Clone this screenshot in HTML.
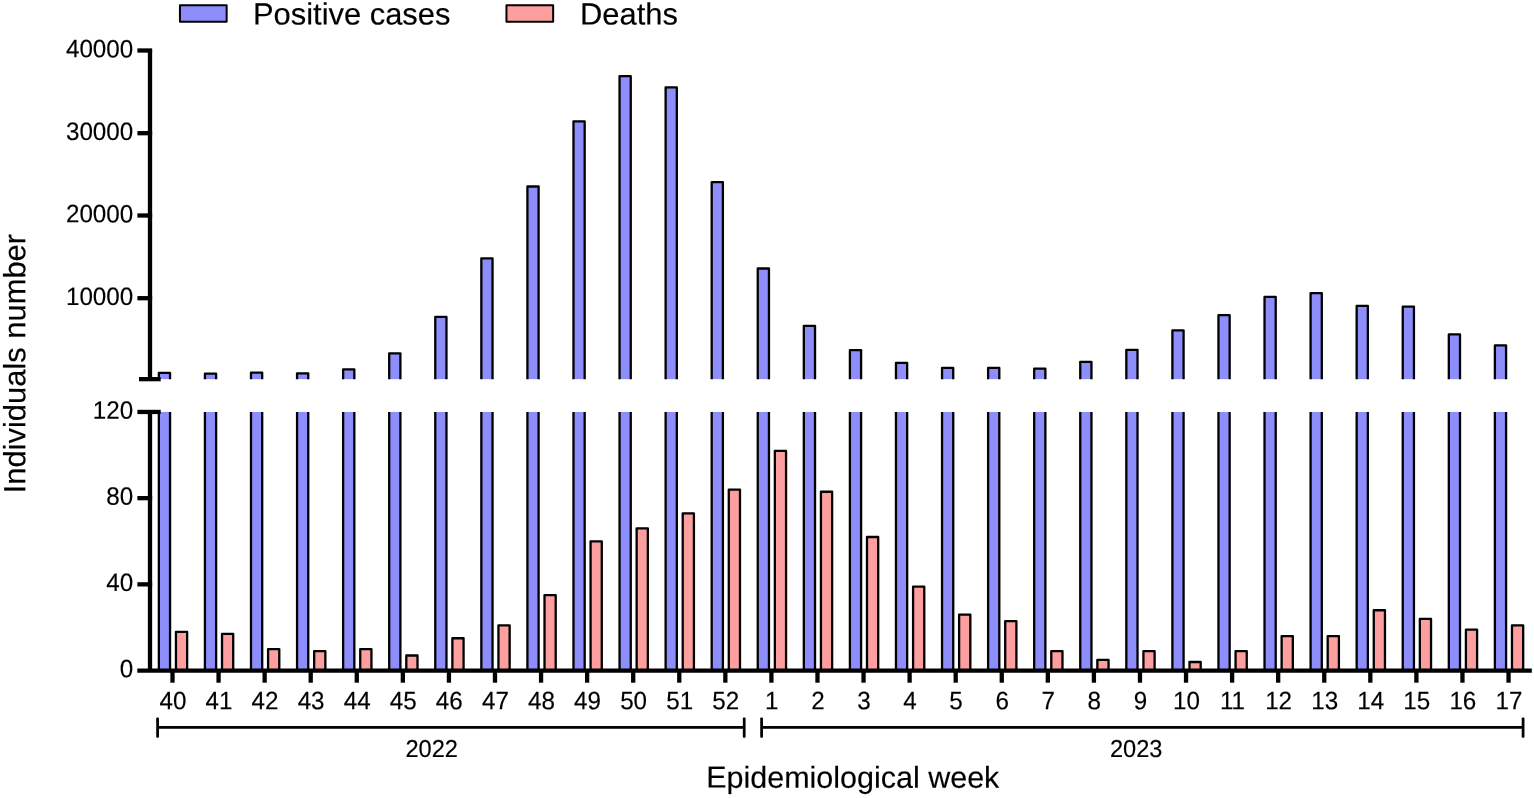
<!DOCTYPE html>
<html lang="en">
<head>
<meta charset="utf-8">
<title>Positive cases and deaths by epidemiological week</title>
<style>
html,body{margin:0;padding:0;background:#fff;}
body{width:1534px;height:798px;overflow:hidden;font-family:"Liberation Sans",sans-serif;}
svg{display:block;}
</style>
</head>
<body>
<svg width="1534" height="798" viewBox="0 0 1534 798" role="img" aria-label="Positive cases and deaths by epidemiological week" font-family="'Liberation Sans', sans-serif" fill="#000">
<rect width="1534" height="798" fill="#fff"/>
<g stroke="#000" stroke-width="2.3" stroke-linejoin="round">
<rect x="158.85" y="372.90" width="11.20" height="6.25" fill="#8d8dfc" stroke="none"/>
<path d="M158.85 379.15V372.90H170.05V379.15" fill="none"/>
<rect x="158.85" y="411.95" width="11.20" height="258.60" fill="#8d8dfc" stroke="none"/>
<path d="M158.85 411.95V670.55M170.05 411.95V670.55" fill="none"/>
<rect x="175.95" y="631.81" width="11.20" height="38.74" fill="#fd9f9f"/>
<rect x="204.92" y="373.70" width="11.20" height="5.45" fill="#8d8dfc" stroke="none"/>
<path d="M204.92 379.15V373.70H216.12V379.15" fill="none"/>
<rect x="204.92" y="411.95" width="11.20" height="258.60" fill="#8d8dfc" stroke="none"/>
<path d="M204.92 411.95V670.55M216.12 411.95V670.55" fill="none"/>
<rect x="222.02" y="633.96" width="11.20" height="36.59" fill="#fd9f9f"/>
<rect x="250.99" y="372.70" width="11.20" height="6.45" fill="#8d8dfc" stroke="none"/>
<path d="M250.99 379.15V372.70H262.19V379.15" fill="none"/>
<rect x="250.99" y="411.95" width="11.20" height="258.60" fill="#8d8dfc" stroke="none"/>
<path d="M250.99 411.95V670.55M262.19 411.95V670.55" fill="none"/>
<rect x="268.09" y="649.05" width="11.20" height="21.50" fill="#fd9f9f"/>
<rect x="297.06" y="373.30" width="11.20" height="5.85" fill="#8d8dfc" stroke="none"/>
<path d="M297.06 379.15V373.30H308.26V379.15" fill="none"/>
<rect x="297.06" y="411.95" width="11.20" height="258.60" fill="#8d8dfc" stroke="none"/>
<path d="M297.06 411.95V670.55M308.26 411.95V670.55" fill="none"/>
<rect x="314.16" y="651.20" width="11.20" height="19.35" fill="#fd9f9f"/>
<rect x="343.13" y="369.40" width="11.20" height="9.75" fill="#8d8dfc" stroke="none"/>
<path d="M343.13 379.15V369.40H354.33V379.15" fill="none"/>
<rect x="343.13" y="411.95" width="11.20" height="258.60" fill="#8d8dfc" stroke="none"/>
<path d="M343.13 411.95V670.55M354.33 411.95V670.55" fill="none"/>
<rect x="360.23" y="649.05" width="11.20" height="21.50" fill="#fd9f9f"/>
<rect x="389.20" y="353.30" width="11.20" height="25.85" fill="#8d8dfc" stroke="none"/>
<path d="M389.20 379.15V353.30H400.40V379.15" fill="none"/>
<rect x="389.20" y="411.95" width="11.20" height="258.60" fill="#8d8dfc" stroke="none"/>
<path d="M389.20 411.95V670.55M400.40 411.95V670.55" fill="none"/>
<rect x="406.30" y="655.51" width="11.20" height="15.04" fill="#fd9f9f"/>
<rect x="435.27" y="316.90" width="11.20" height="62.25" fill="#8d8dfc" stroke="none"/>
<path d="M435.27 379.15V316.90H446.47V379.15" fill="none"/>
<rect x="435.27" y="411.95" width="11.20" height="258.60" fill="#8d8dfc" stroke="none"/>
<path d="M435.27 411.95V670.55M446.47 411.95V670.55" fill="none"/>
<rect x="452.37" y="638.27" width="11.20" height="32.28" fill="#fd9f9f"/>
<rect x="481.34" y="258.40" width="11.20" height="120.75" fill="#8d8dfc" stroke="none"/>
<path d="M481.34 379.15V258.40H492.54V379.15" fill="none"/>
<rect x="481.34" y="411.95" width="11.20" height="258.60" fill="#8d8dfc" stroke="none"/>
<path d="M481.34 411.95V670.55M492.54 411.95V670.55" fill="none"/>
<rect x="498.44" y="625.34" width="11.20" height="45.21" fill="#fd9f9f"/>
<rect x="527.41" y="186.50" width="11.20" height="192.65" fill="#8d8dfc" stroke="none"/>
<path d="M527.41 379.15V186.50H538.61V379.15" fill="none"/>
<rect x="527.41" y="411.95" width="11.20" height="258.60" fill="#8d8dfc" stroke="none"/>
<path d="M527.41 411.95V670.55M538.61 411.95V670.55" fill="none"/>
<rect x="544.51" y="595.17" width="11.20" height="75.38" fill="#fd9f9f"/>
<rect x="573.48" y="121.40" width="11.20" height="257.75" fill="#8d8dfc" stroke="none"/>
<path d="M573.48 379.15V121.40H584.68V379.15" fill="none"/>
<rect x="573.48" y="411.95" width="11.20" height="258.60" fill="#8d8dfc" stroke="none"/>
<path d="M573.48 411.95V670.55M584.68 411.95V670.55" fill="none"/>
<rect x="590.58" y="541.30" width="11.20" height="129.25" fill="#fd9f9f"/>
<rect x="619.55" y="76.20" width="11.20" height="302.95" fill="#8d8dfc" stroke="none"/>
<path d="M619.55 379.15V76.20H630.75V379.15" fill="none"/>
<rect x="619.55" y="411.95" width="11.20" height="258.60" fill="#8d8dfc" stroke="none"/>
<path d="M619.55 411.95V670.55M630.75 411.95V670.55" fill="none"/>
<rect x="636.65" y="528.37" width="11.20" height="142.18" fill="#fd9f9f"/>
<rect x="665.62" y="87.40" width="11.20" height="291.75" fill="#8d8dfc" stroke="none"/>
<path d="M665.62 379.15V87.40H676.82V379.15" fill="none"/>
<rect x="665.62" y="411.95" width="11.20" height="258.60" fill="#8d8dfc" stroke="none"/>
<path d="M665.62 411.95V670.55M676.82 411.95V670.55" fill="none"/>
<rect x="682.72" y="513.28" width="11.20" height="157.27" fill="#fd9f9f"/>
<rect x="711.69" y="182.20" width="11.20" height="196.95" fill="#8d8dfc" stroke="none"/>
<path d="M711.69 379.15V182.20H722.89V379.15" fill="none"/>
<rect x="711.69" y="411.95" width="11.20" height="258.60" fill="#8d8dfc" stroke="none"/>
<path d="M711.69 411.95V670.55M722.89 411.95V670.55" fill="none"/>
<rect x="728.79" y="489.58" width="11.20" height="180.97" fill="#fd9f9f"/>
<rect x="757.76" y="268.50" width="11.20" height="110.65" fill="#8d8dfc" stroke="none"/>
<path d="M757.76 379.15V268.50H768.96V379.15" fill="none"/>
<rect x="757.76" y="411.95" width="11.20" height="258.60" fill="#8d8dfc" stroke="none"/>
<path d="M757.76 411.95V670.55M768.96 411.95V670.55" fill="none"/>
<rect x="774.86" y="450.79" width="11.20" height="219.76" fill="#fd9f9f"/>
<rect x="803.83" y="325.80" width="11.20" height="53.35" fill="#8d8dfc" stroke="none"/>
<path d="M803.83 379.15V325.80H815.03V379.15" fill="none"/>
<rect x="803.83" y="411.95" width="11.20" height="258.60" fill="#8d8dfc" stroke="none"/>
<path d="M803.83 411.95V670.55M815.03 411.95V670.55" fill="none"/>
<rect x="820.93" y="491.73" width="11.20" height="178.81" fill="#fd9f9f"/>
<rect x="849.90" y="350.10" width="11.20" height="29.05" fill="#8d8dfc" stroke="none"/>
<path d="M849.90 379.15V350.10H861.10V379.15" fill="none"/>
<rect x="849.90" y="411.95" width="11.20" height="258.60" fill="#8d8dfc" stroke="none"/>
<path d="M849.90 411.95V670.55M861.10 411.95V670.55" fill="none"/>
<rect x="867.00" y="536.99" width="11.20" height="133.56" fill="#fd9f9f"/>
<rect x="895.97" y="362.80" width="11.20" height="16.35" fill="#8d8dfc" stroke="none"/>
<path d="M895.97 379.15V362.80H907.17V379.15" fill="none"/>
<rect x="895.97" y="411.95" width="11.20" height="258.60" fill="#8d8dfc" stroke="none"/>
<path d="M895.97 411.95V670.55M907.17 411.95V670.55" fill="none"/>
<rect x="913.07" y="586.55" width="11.20" height="84.00" fill="#fd9f9f"/>
<rect x="942.04" y="367.90" width="11.20" height="11.25" fill="#8d8dfc" stroke="none"/>
<path d="M942.04 379.15V367.90H953.24V379.15" fill="none"/>
<rect x="942.04" y="411.95" width="11.20" height="258.60" fill="#8d8dfc" stroke="none"/>
<path d="M942.04 411.95V670.55M953.24 411.95V670.55" fill="none"/>
<rect x="959.14" y="614.57" width="11.20" height="55.98" fill="#fd9f9f"/>
<rect x="988.11" y="367.90" width="11.20" height="11.25" fill="#8d8dfc" stroke="none"/>
<path d="M988.11 379.15V367.90H999.31V379.15" fill="none"/>
<rect x="988.11" y="411.95" width="11.20" height="258.60" fill="#8d8dfc" stroke="none"/>
<path d="M988.11 411.95V670.55M999.31 411.95V670.55" fill="none"/>
<rect x="1005.21" y="621.03" width="11.20" height="49.52" fill="#fd9f9f"/>
<rect x="1034.18" y="368.70" width="11.20" height="10.45" fill="#8d8dfc" stroke="none"/>
<path d="M1034.18 379.15V368.70H1045.38V379.15" fill="none"/>
<rect x="1034.18" y="411.95" width="11.20" height="258.60" fill="#8d8dfc" stroke="none"/>
<path d="M1034.18 411.95V670.55M1045.38 411.95V670.55" fill="none"/>
<rect x="1051.28" y="651.20" width="11.20" height="19.35" fill="#fd9f9f"/>
<rect x="1080.25" y="361.80" width="11.20" height="17.35" fill="#8d8dfc" stroke="none"/>
<path d="M1080.25 379.15V361.80H1091.45V379.15" fill="none"/>
<rect x="1080.25" y="411.95" width="11.20" height="258.60" fill="#8d8dfc" stroke="none"/>
<path d="M1080.25 411.95V670.55M1091.45 411.95V670.55" fill="none"/>
<rect x="1097.35" y="659.82" width="11.20" height="10.73" fill="#fd9f9f"/>
<rect x="1126.32" y="349.90" width="11.20" height="29.25" fill="#8d8dfc" stroke="none"/>
<path d="M1126.32 379.15V349.90H1137.52V379.15" fill="none"/>
<rect x="1126.32" y="411.95" width="11.20" height="258.60" fill="#8d8dfc" stroke="none"/>
<path d="M1126.32 411.95V670.55M1137.52 411.95V670.55" fill="none"/>
<rect x="1143.42" y="651.20" width="11.20" height="19.35" fill="#fd9f9f"/>
<rect x="1172.39" y="330.30" width="11.20" height="48.85" fill="#8d8dfc" stroke="none"/>
<path d="M1172.39 379.15V330.30H1183.59V379.15" fill="none"/>
<rect x="1172.39" y="411.95" width="11.20" height="258.60" fill="#8d8dfc" stroke="none"/>
<path d="M1172.39 411.95V670.55M1183.59 411.95V670.55" fill="none"/>
<rect x="1189.49" y="661.98" width="11.20" height="8.57" fill="#fd9f9f"/>
<rect x="1218.46" y="315.20" width="11.20" height="63.95" fill="#8d8dfc" stroke="none"/>
<path d="M1218.46 379.15V315.20H1229.66V379.15" fill="none"/>
<rect x="1218.46" y="411.95" width="11.20" height="258.60" fill="#8d8dfc" stroke="none"/>
<path d="M1218.46 411.95V670.55M1229.66 411.95V670.55" fill="none"/>
<rect x="1235.56" y="651.20" width="11.20" height="19.35" fill="#fd9f9f"/>
<rect x="1264.53" y="296.90" width="11.20" height="82.25" fill="#8d8dfc" stroke="none"/>
<path d="M1264.53 379.15V296.90H1275.73V379.15" fill="none"/>
<rect x="1264.53" y="411.95" width="11.20" height="258.60" fill="#8d8dfc" stroke="none"/>
<path d="M1264.53 411.95V670.55M1275.73 411.95V670.55" fill="none"/>
<rect x="1281.63" y="636.12" width="11.20" height="34.43" fill="#fd9f9f"/>
<rect x="1310.60" y="293.10" width="11.20" height="86.05" fill="#8d8dfc" stroke="none"/>
<path d="M1310.60 379.15V293.10H1321.80V379.15" fill="none"/>
<rect x="1310.60" y="411.95" width="11.20" height="258.60" fill="#8d8dfc" stroke="none"/>
<path d="M1310.60 411.95V670.55M1321.80 411.95V670.55" fill="none"/>
<rect x="1327.70" y="636.12" width="11.20" height="34.43" fill="#fd9f9f"/>
<rect x="1356.67" y="305.90" width="11.20" height="73.25" fill="#8d8dfc" stroke="none"/>
<path d="M1356.67 379.15V305.90H1367.87V379.15" fill="none"/>
<rect x="1356.67" y="411.95" width="11.20" height="258.60" fill="#8d8dfc" stroke="none"/>
<path d="M1356.67 411.95V670.55M1367.87 411.95V670.55" fill="none"/>
<rect x="1373.77" y="610.26" width="11.20" height="60.29" fill="#fd9f9f"/>
<rect x="1402.74" y="306.60" width="11.20" height="72.55" fill="#8d8dfc" stroke="none"/>
<path d="M1402.74 379.15V306.60H1413.94V379.15" fill="none"/>
<rect x="1402.74" y="411.95" width="11.20" height="258.60" fill="#8d8dfc" stroke="none"/>
<path d="M1402.74 411.95V670.55M1413.94 411.95V670.55" fill="none"/>
<rect x="1419.84" y="618.88" width="11.20" height="51.67" fill="#fd9f9f"/>
<rect x="1448.81" y="334.40" width="11.20" height="44.75" fill="#8d8dfc" stroke="none"/>
<path d="M1448.81 379.15V334.40H1460.01V379.15" fill="none"/>
<rect x="1448.81" y="411.95" width="11.20" height="258.60" fill="#8d8dfc" stroke="none"/>
<path d="M1448.81 411.95V670.55M1460.01 411.95V670.55" fill="none"/>
<rect x="1465.91" y="629.65" width="11.20" height="40.89" fill="#fd9f9f"/>
<rect x="1494.88" y="345.40" width="11.20" height="33.75" fill="#8d8dfc" stroke="none"/>
<path d="M1494.88 379.15V345.40H1506.08V379.15" fill="none"/>
<rect x="1494.88" y="411.95" width="11.20" height="258.60" fill="#8d8dfc" stroke="none"/>
<path d="M1494.88 411.95V670.55M1506.08 411.95V670.55" fill="none"/>
<rect x="1511.98" y="625.34" width="11.20" height="45.21" fill="#fd9f9f"/>
</g>
<g stroke="#000" stroke-width="4.3" fill="none">
<path d="M150.0 50.50V379.15"/>
<path d="M150.0 411.95V670.55"/>
<path d="M137.4 50.5H152.15"/>
<path d="M137.4 133.2H152.15"/>
<path d="M137.4 215.5H152.15"/>
<path d="M137.4 298.2H152.15"/>
<path d="M139.0 379.15H160.7"/>
<path d="M137.4 411.95H160.7"/>
<path d="M137.4 498.15H152.15"/>
<path d="M137.4 584.35H152.15"/>
<path d="M137.3 670.55H1531.8"/>
<path d="M172.50 670.55V682.7"/>
<path d="M218.57 670.55V682.7"/>
<path d="M264.64 670.55V682.7"/>
<path d="M310.71 670.55V682.7"/>
<path d="M356.78 670.55V682.7"/>
<path d="M402.85 670.55V682.7"/>
<path d="M448.92 670.55V682.7"/>
<path d="M494.99 670.55V682.7"/>
<path d="M541.06 670.55V682.7"/>
<path d="M587.13 670.55V682.7"/>
<path d="M633.20 670.55V682.7"/>
<path d="M679.27 670.55V682.7"/>
<path d="M725.34 670.55V682.7"/>
<path d="M771.41 670.55V682.7"/>
<path d="M817.48 670.55V682.7"/>
<path d="M863.55 670.55V682.7"/>
<path d="M909.62 670.55V682.7"/>
<path d="M955.69 670.55V682.7"/>
<path d="M1001.76 670.55V682.7"/>
<path d="M1047.83 670.55V682.7"/>
<path d="M1093.90 670.55V682.7"/>
<path d="M1139.97 670.55V682.7"/>
<path d="M1186.04 670.55V682.7"/>
<path d="M1232.11 670.55V682.7"/>
<path d="M1278.18 670.55V682.7"/>
<path d="M1324.25 670.55V682.7"/>
<path d="M1370.32 670.55V682.7"/>
<path d="M1416.39 670.55V682.7"/>
<path d="M1462.46 670.55V682.7"/>
<path d="M1508.53 670.55V682.7"/>
</g>
<g fill="#000">
<rect x="157.60" y="726.02" width="586.60" height="2.75"/>
<rect x="156.22" y="717.5" width="2.75" height="20.25" rx="0.9"/>
<rect x="742.83" y="717.5" width="2.75" height="20.25" rx="0.9"/>
<rect x="761.60" y="726.02" width="761.50" height="2.75"/>
<rect x="760.23" y="717.5" width="2.75" height="20.25" rx="0.9"/>
<rect x="1521.72" y="717.5" width="2.75" height="20.25" rx="0.9"/>
</g>
<g stroke="#000" stroke-width="0.15" stroke-linejoin="round">
<g font-size="24.2" text-anchor="end">
<text transform="translate(133.2 57.40) rotate(0.05) scale(1 1.04)">40000</text>
<text transform="translate(133.2 140.10) rotate(0.05) scale(1 1.04)">30000</text>
<text transform="translate(133.2 222.40) rotate(0.05) scale(1 1.04)">20000</text>
<text transform="translate(133.2 305.10) rotate(0.05) scale(1 1.04)">10000</text>
<text transform="translate(133.2 418.70) rotate(0.05) scale(1 1.04)">120</text>
<text transform="translate(133.2 504.70) rotate(0.05) scale(1 1.04)">80</text>
<text transform="translate(133.2 591.10) rotate(0.05) scale(1 1.04)">40</text>
<text transform="translate(133.2 677.30) rotate(0.05) scale(1 1.04)">0</text>
</g>
<g font-size="24.2" text-anchor="middle">
<text transform="translate(172.90 709.15) rotate(0.05) scale(1 1.04)">40</text>
<text transform="translate(218.97 709.15) rotate(0.05) scale(1 1.04)">41</text>
<text transform="translate(265.04 709.15) rotate(0.05) scale(1 1.04)">42</text>
<text transform="translate(311.11 709.15) rotate(0.05) scale(1 1.04)">43</text>
<text transform="translate(357.18 709.15) rotate(0.05) scale(1 1.04)">44</text>
<text transform="translate(403.25 709.15) rotate(0.05) scale(1 1.04)">45</text>
<text transform="translate(449.32 709.15) rotate(0.05) scale(1 1.04)">46</text>
<text transform="translate(495.39 709.15) rotate(0.05) scale(1 1.04)">47</text>
<text transform="translate(541.46 709.15) rotate(0.05) scale(1 1.04)">48</text>
<text transform="translate(587.53 709.15) rotate(0.05) scale(1 1.04)">49</text>
<text transform="translate(633.60 709.15) rotate(0.05) scale(1 1.04)">50</text>
<text transform="translate(679.67 709.15) rotate(0.05) scale(1 1.04)">51</text>
<text transform="translate(725.74 709.15) rotate(0.05) scale(1 1.04)">52</text>
<text transform="translate(771.81 709.15) rotate(0.05) scale(1 1.04)">1</text>
<text transform="translate(817.88 709.15) rotate(0.05) scale(1 1.04)">2</text>
<text transform="translate(863.95 709.15) rotate(0.05) scale(1 1.04)">3</text>
<text transform="translate(910.02 709.15) rotate(0.05) scale(1 1.04)">4</text>
<text transform="translate(956.09 709.15) rotate(0.05) scale(1 1.04)">5</text>
<text transform="translate(1002.16 709.15) rotate(0.05) scale(1 1.04)">6</text>
<text transform="translate(1048.23 709.15) rotate(0.05) scale(1 1.04)">7</text>
<text transform="translate(1094.30 709.15) rotate(0.05) scale(1 1.04)">8</text>
<text transform="translate(1140.37 709.15) rotate(0.05) scale(1 1.04)">9</text>
<text transform="translate(1186.44 709.15) rotate(0.05) scale(1 1.04)">10</text>
<text transform="translate(1232.51 709.15) rotate(0.05) scale(1 1.04)">11</text>
<text transform="translate(1278.58 709.15) rotate(0.05) scale(1 1.04)">12</text>
<text transform="translate(1324.65 709.15) rotate(0.05) scale(1 1.04)">13</text>
<text transform="translate(1370.72 709.15) rotate(0.05) scale(1 1.04)">14</text>
<text transform="translate(1416.79 709.15) rotate(0.05) scale(1 1.04)">15</text>
<text transform="translate(1462.86 709.15) rotate(0.05) scale(1 1.04)">16</text>
<text transform="translate(1508.93 709.15) rotate(0.05) scale(1 1.04)">17</text>
<text font-size="23.6" transform="translate(431.7 757.0) rotate(0.05) scale(1 1.04)">2022</text>
<text font-size="23.6" transform="translate(1136.2 757.0) rotate(0.05) scale(1 1.04)">2023</text>
</g>
<g font-size="30.5">
<text transform="translate(852.8 787.75) rotate(0.05) scale(1 0.995)" text-anchor="middle">Epidemiological week</text>
<text transform="translate(25.25 363.6) rotate(-89.95) scale(1 0.995)" font-size="30.9" text-anchor="middle">Individuals number</text>
</g>
<g font-size="30.9">
<text transform="translate(253.0 24.45) rotate(0.05) scale(1 0.995)">Positive cases</text>
<text transform="translate(580.0 24.45) rotate(0.05) scale(1 0.995)">Deaths</text>
</g>
</g>
<g stroke="#000" stroke-width="2.0" stroke-linejoin="round">
<rect x="179.95" y="5.3" width="46.7" height="16.5" fill="#8d8dfc"/>
<rect x="506.45" y="5.3" width="46.7" height="16.5" fill="#fd9f9f"/>
</g>
</svg>
</body>
</html>
